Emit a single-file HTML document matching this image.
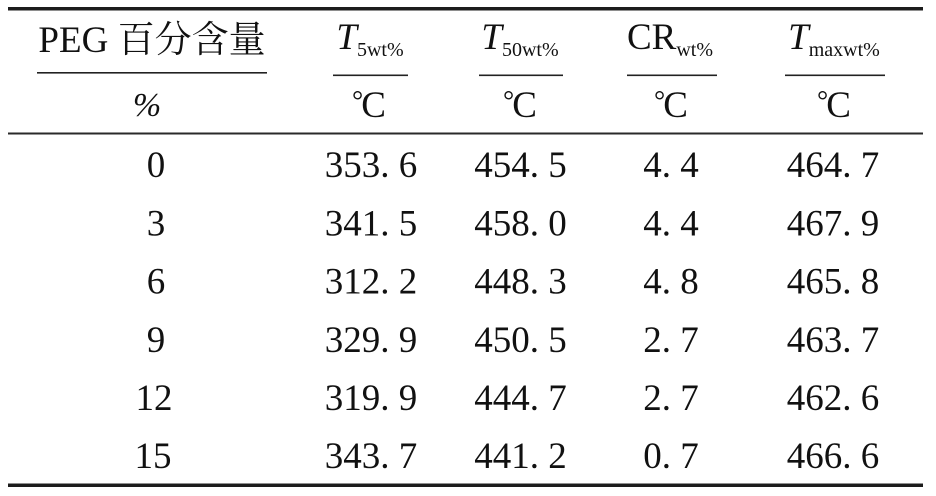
<!DOCTYPE html>
<html><head><meta charset="utf-8"><style>
html,body{margin:0;padding:0;background:#fff;}
svg{display:block;}
text{font-family:"Liberation Serif","Noto Serif CJK SC",serif;fill:#111;white-space:pre;}
.cjk{font-family:"Liberation Serif","Noto Serif CJK SC",serif;}
</style></head><body>
<svg width="936" height="496" viewBox="0 0 936 496" xmlns="http://www.w3.org/2000/svg">
<rect x="0" y="0" width="936" height="496" fill="#fff"/>
<rect x="8" y="7" width="915" height="3.5" fill="#1c1c1c"/>
<rect x="8" y="132.5" width="915" height="2" fill="#2a2a2a"/>
<rect x="8" y="483.5" width="915" height="3.5" fill="#1c1c1c"/>

<rect x="37" y="72" width="230" height="1.6" fill="#222"/>
<rect x="333" y="74.5" width="75" height="1.6" fill="#222"/>
<rect x="479" y="74.5" width="84" height="1.6" fill="#222"/>
<rect x="627" y="74.5" width="90" height="1.6" fill="#222"/>
<rect x="785" y="74.5" width="100" height="1.6" fill="#222"/>

<g font-size="37">
<text x="152" y="52" text-anchor="middle" class="cjk">PEG 百分含量</text>
<text x="370" y="49" text-anchor="middle"><tspan font-style="italic" font-size="37">T</tspan><tspan font-size="20" dy="7">5wt%</tspan></text>
<text x="520" y="49" text-anchor="middle"><tspan font-style="italic" font-size="37">T</tspan><tspan font-size="20" dy="7">50wt%</tspan></text>
<text x="670" y="49" text-anchor="middle"><tspan>CR</tspan><tspan font-size="20" dy="7">wt%</tspan></text>
<text x="834" y="49" text-anchor="middle"><tspan font-style="italic" font-size="37">T</tspan><tspan font-size="20" dy="7">maxwt%</tspan></text>

<text x="147" y="116" text-anchor="middle" font-style="italic" font-size="34">%</text>
<text x="369" y="117" text-anchor="middle"><tspan font-size="28" dy="-7">°</tspan><tspan dx="-2" dy="7">C</tspan></text>
<text x="520" y="117" text-anchor="middle"><tspan font-size="28" dy="-7">°</tspan><tspan dx="-2" dy="7">C</tspan></text>
<text x="671" y="117" text-anchor="middle"><tspan font-size="28" dy="-7">°</tspan><tspan dx="-2" dy="7">C</tspan></text>
<text x="834" y="117" text-anchor="middle"><tspan font-size="28" dy="-7">°</tspan><tspan dx="-2" dy="7">C</tspan></text>

<text x="156" y="177" text-anchor="middle">0</text>
<text x="371" y="177" text-anchor="middle">353. 6</text>
<text x="520.5" y="177" text-anchor="middle">454. 5</text>
<text x="671" y="177" text-anchor="middle">4. 4</text>
<text x="833" y="177" text-anchor="middle">464. 7</text>

<text x="156" y="235.3" text-anchor="middle">3</text>
<text x="371" y="235.3" text-anchor="middle">341. 5</text>
<text x="520.5" y="235.3" text-anchor="middle">458. 0</text>
<text x="671" y="235.3" text-anchor="middle">4. 4</text>
<text x="833" y="235.3" text-anchor="middle">467. 9</text>

<text x="156" y="293.5" text-anchor="middle">6</text>
<text x="371" y="293.5" text-anchor="middle">312. 2</text>
<text x="520.5" y="293.5" text-anchor="middle">448. 3</text>
<text x="671" y="293.5" text-anchor="middle">4. 8</text>
<text x="833" y="293.5" text-anchor="middle">465. 8</text>

<text x="156" y="351.8" text-anchor="middle">9</text>
<text x="371" y="351.8" text-anchor="middle">329. 9</text>
<text x="520.5" y="351.8" text-anchor="middle">450. 5</text>
<text x="671" y="351.8" text-anchor="middle">2. 7</text>
<text x="833" y="351.8" text-anchor="middle">463. 7</text>

<text x="154" y="410" text-anchor="middle">12</text>
<text x="371" y="410" text-anchor="middle">319. 9</text>
<text x="520.5" y="410" text-anchor="middle">444. 7</text>
<text x="671" y="410" text-anchor="middle">2. 7</text>
<text x="833" y="410" text-anchor="middle">462. 6</text>

<text x="153" y="468" text-anchor="middle">15</text>
<text x="371" y="468" text-anchor="middle">343. 7</text>
<text x="520.5" y="468" text-anchor="middle">441. 2</text>
<text x="671" y="468" text-anchor="middle">0. 7</text>
<text x="833" y="468" text-anchor="middle">466. 6</text>
</g>
</svg>
</body></html>
